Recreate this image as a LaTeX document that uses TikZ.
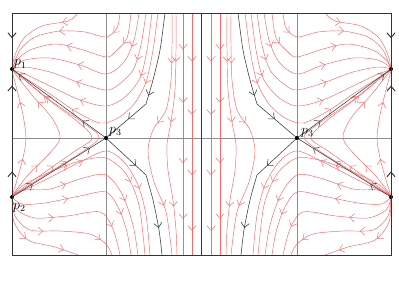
\documentclass[tikz,border=0pt]{standalone}
\usetikzlibrary{arrows.meta,decorations.markings}

\tikzset{
  flow/.style={red!60,line width=0.4pt},
  sep/.style={black!75,line width=0.5pt},
  frame/.style={black!80,line width=0.8pt},
  grid/.style={black!45,line width=0.4pt},
  arr/.style={postaction={decorate,decoration={markings,
    mark=at position #1 with {\arrow{Straight Barb[length=4pt,width=7pt]}}}}},
}

% one half of the phase portrait (the other half is its mirror image)
\newcommand{\halfpanel}{%
\coordinate (p1) at (12,69);
\coordinate (p2) at (12,197);
\coordinate (p3) at (106,138);
\coordinate (t1) at (165,13);
\coordinate (k1) at (146,104);
\coordinate (k2) at (146,175);
\coordinate (b1) at (162,255);

% arcs from p2 to p1
\draw[flow,arr=0.3,arr=0.75] plot[smooth] coordinates {(12,196) (17,180) (23,158) (26,138) (23,115) (17,90) (12,71)};
\draw[flow,arr=0.25,arr=0.75] plot[smooth] coordinates {(12,196) (28,175) (48,155) (60,138) (52,118) (32,95) (13,71)};
\draw[flow,arr=0.25,arr=0.8] plot[smooth] coordinates {(12,196) (45,172) (75,151) (92,138) (78,122) (45,97) (13,70)};
\draw[flow,arr=0.3,arr=0.8] plot[smooth] coordinates {(12,196) (50,172) (85,150) (99,137) (85,124) (50,100) (13,70)};

% from the top edge into p1
\draw[flow,arr=0.2] plot[smooth] coordinates {(78,13) (68,21) (42,26) (24,38) (15,55) (12,68)};
\draw[flow,arr=0.15,arr=0.55] plot[smooth] coordinates {(120,13) (117,28) (106,37) (85,32) (60,31) (35,37) (20,50) (13,67)};
\draw[flow,arr=0.2,arr=0.6] plot[smooth] coordinates {(131,13) (127,38) (115,52) (106,57) (80,49) (55,44) (30,50) (17,60) (12,68)};
\draw[flow,arr=0.2,arr=0.6] plot[smooth] coordinates {(139,13) (134,40) (124,62) (106,74) (80,65) (50,58) (25,60) (12,68)};
\draw[flow,arr=0.25,arr=0.65] plot[smooth] coordinates {(146,13) (141,45) (133,70) (118,85) (106,90) (80,83) (50,72) (25,67) (12,69)};
\draw[flow,arr=0.3,arr=0.65] plot[smooth] coordinates {(152,13) (147,50) (140,78) (125,97) (106,106) (80,100) (50,86) (25,74) (12,70)};
\draw[flow,arr=0.3,arr=0.7] plot[smooth] coordinates {(158,13) (153,50) (146,82) (134,104) (118,118) (100,123) (75,111) (50,94) (25,78) (12,70)};

% down through the middle strip
\draw[flow,arr=0.2,arr=0.45,arr=0.8] plot[smooth] coordinates {(172,13) (172,45) (171,80) (166,110) (153,130) (148,152) (154,182) (166,212) (172,255)};
\draw[flow,arr=0.2,arr=0.45,arr=0.8] plot[smooth] coordinates {(176,13) (176,50) (175,90) (171,122) (167,145) (168,170) (173,200) (176,230) (177,255)};
\draw[flow,arr=0.15,arr=0.37,arr=0.62,arr=0.85] (183,13) -- (183,255);
\draw[flow,arr=0.2,arr=0.42,arr=0.67,arr=0.9] (192,13) -- (192,255);

% from p2 to the bottom edge
\draw[flow,arr=0.35,arr=0.7] plot[smooth] coordinates {(12,196) (45,180) (80,162) (106,151) (124,162) (138,185) (146,215) (150,255)};
\draw[flow,arr=0.3,arr=0.65] plot[smooth] coordinates {(12,196) (25,184) (50,172) (80,161) (106,158) (126,174) (139,205) (145,255)};
\draw[flow,arr=0.3,arr=0.7] plot[smooth] coordinates {(12,196) (25,190) (50,189) (83,178) (106,175) (122,194) (133,225) (138,255)};
\draw[flow,arr=0.35,arr=0.75] plot[smooth] coordinates {(12,197) (22,204) (45,203) (80,196) (106,192) (119,209) (127,232) (131,255)};
\draw[flow,arr=0.35,arr=0.8] plot[smooth] coordinates {(12,198) (17,210) (35,218) (67,216) (100,212) (113,229) (120,255)};
\draw[flow,arr=0.4,arr=0.85] plot[smooth] coordinates {(12,198) (15,216) (30,230) (60,231) (90,234) (106,244) (112,255)};
\draw[flow,arr=0.45,arr=0.85] plot[smooth] coordinates {(12,198) (14,222) (28,240) (55,247) (78,255)};

% separatrices
\draw[sep,arr=0.22,arr=0.83] (p2) -- (p3);
\draw[sep,arr=0.25,arr=0.93] (p3) -- (p1);
\draw[sep,arr=0.58,arr=0.8] plot[smooth] coordinates {(t1) (160,50) (153,80) (k1)} -- (p3);
\draw[sep,arr=0.3,arr=0.8] (p3) -- plot[smooth] coordinates {(k2) (153,200) (159,230) (b1)};
\draw[frame,arr=0.45] (12,13) -- (p1);
\draw[frame,arr=0.2,arr=0.87] (p2) -- (p1);

\fill (p1) circle (1.7pt);
\fill (p2) circle (1.7pt);
\fill (p3) circle (1.7pt);
}

\begin{document}
\begin{tikzpicture}[x=0.03cm,y=-0.03cm]
\useasboundingbox (0,0) rectangle (399,282);

\draw[grid] (106,13) -- (106,255);
\draw[grid] (297,13) -- (297,255);
\draw[grid] (12,138) -- (391,138);

\halfpanel
\begin{scope}[shift={(403,0)},xscale=-1]
\halfpanel
\end{scope}

\draw[frame] (12,13) rectangle (391,255);
\draw[frame] (201.5,13) -- (201.5,255);

\node[anchor=base west,inner sep=0pt,font=\large] (lp1) at (14,66) {$p_1$};
\node[anchor=base west,inner sep=0pt,font=\large] (lp2) at (13,209) {$p_2$};
\node[anchor=base west,inner sep=0pt,font=\large] (lp3) at (109,133) {$p_3$};
\node[anchor=base west,inner sep=0pt,font=\large] (rp3) at (301,134) {$p_3$};
\end{tikzpicture}
\end{document}
